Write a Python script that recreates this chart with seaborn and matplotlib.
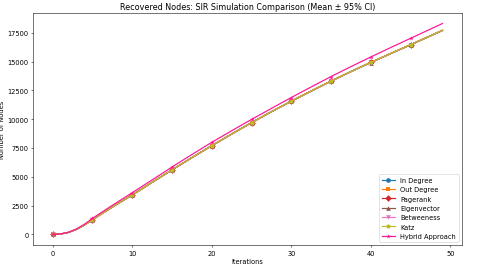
import pandas as pd
import matplotlib
matplotlib.use("Agg")
import matplotlib.pyplot as plt
import seaborn as sns

iterations = list(range(50))

# mean recovered nodes per iteration
in_degree = [0, 40, 180, 440, 820, 1270, 1720, 2160, 2590, 3010, 3420,
             3860, 4300, 4740, 5170, 5600, 6025, 6450, 6870, 7285, 7700,
             8105, 8510, 8910, 9305, 9700, 10080, 10460, 10830, 11195, 11560,
             11915, 12265, 12615, 12960, 13300, 13635, 13965, 14290, 14610, 14920,
             15230, 15540, 15850, 16155, 16460, 16770, 17080, 17390, 17700]
out_degree = [0, 40, 182, 442, 822, 1272, 1722, 2162, 2592, 3012, 3422,
              3862, 4302, 4742, 5172, 5602, 6027, 6452, 6872, 7287, 7702,
              8107, 8512, 8912, 9307, 9702, 10082, 10462, 10832, 11197, 11562,
              11917, 12267, 12617, 12962, 13302, 13637, 13967, 14292, 14612, 14922,
              15232, 15542, 15852, 16157, 16462, 16772, 17082, 17392, 17702]
pagerank = [0, 42, 185, 448, 830, 1282, 1732, 2172, 2602, 3022, 3432,
            3872, 4312, 4752, 5182, 5612, 6037, 6462, 6882, 7297, 7712,
            8117, 8522, 8922, 9317, 9712, 10092, 10472, 10842, 11207, 11572,
            11927, 12277, 12627, 12972, 13312, 13647, 13977, 14302, 14622, 14932,
            15242, 15552, 15862, 16167, 16472, 16782, 17092, 17402, 17712]
eigenvector = [0, 38, 176, 434, 812, 1260, 1710, 2150, 2580, 3000, 3410,
               3850, 4290, 4730, 5160, 5590, 6015, 6440, 6860, 7275, 7690,
               8095, 8500, 8900, 9295, 9690, 10070, 10450, 10820, 11185, 11550,
               11905, 12255, 12605, 12950, 13290, 13625, 13955, 14280, 14600, 14910,
               15220, 15530, 15840, 16145, 16450, 16760, 17070, 17380, 17690]
betweeness = [0, 40, 180, 438, 818, 1266, 1716, 2156, 2586, 3006, 3416,
              3856, 4296, 4736, 5166, 5596, 6021, 6446, 6866, 7281, 7696,
              8101, 8506, 8906, 9301, 9696, 10076, 10456, 10826, 11191, 11556,
              11911, 12261, 12611, 12956, 13296, 13631, 13961, 14286, 14606, 14916,
              15226, 15536, 15846, 16151, 16456, 16766, 17076, 17386, 17696]
katz = [0, 41, 183, 444, 824, 1275, 1725, 2165, 2595, 3015, 3425,
        3865, 4305, 4745, 5175, 5605, 6030, 6455, 6875, 7290, 7705,
        8110, 8515, 8915, 9310, 9705, 10085, 10465, 10835, 11200, 11565,
        11920, 12270, 12620, 12965, 13305, 13640, 13970, 14295, 14615, 14925,
        15235, 15545, 15855, 16160, 16465, 16775, 17085, 17395, 17705]
hybrid = [0, 45, 195, 475, 890, 1390, 1850, 2300, 2745, 3185, 3620,
          4065, 4510, 4955, 5400, 5850, 6285, 6718, 7145, 7570, 7990,
          8395, 8795, 9195, 9590, 9980, 10365, 10745, 11125, 11505, 11880,
          12250, 12615, 12980, 13340, 13700, 14045, 14390, 14730, 15065, 15400,
          15730, 16055, 16380, 16700, 17020, 17340, 17660, 17980, 18300]

series_names = ['In Degree', 'Out Degree', 'Pagerank', 'Eigenvector',
                'Betweeness', 'Katz', 'Hybrid Approach']
series_values = [in_degree, out_degree, pagerank, eigenvector,
                 betweeness, katz, hybrid]
colors = ['#1f77b4', '#ff7f0e', '#d62728', '#8c564b', '#e377c2', '#bcbd22', '#ff1493']
markers = ['o', 's', 'D', '^', 'v', 'p', '*']

fig, ax = plt.subplots(figsize=(10, 5.583), dpi=48)

for name, vals, c, m in zip(series_names, series_values, colors, markers):
    df = pd.DataFrame({'Iterations': iterations, 'Recovered': vals})
    sns.lineplot(data=df, x='Iterations', y='Recovered', ax=ax, color=c,
                 marker=m, markevery=5, markersize=7, markeredgewidth=0,
                 linewidth=1.8, label=name)

ax.set_title('Recovered Nodes: SIR Simulation Comparison (Mean ± 95% CI)')
ax.set_xlabel('Iterations')
ax.set_ylabel('Number of Nodes')
ax.legend(loc='lower right')

fig.subplots_adjust(left=0.069, right=0.9625, top=0.948, bottom=0.082)
plt.savefig('out.png', dpi=48)
